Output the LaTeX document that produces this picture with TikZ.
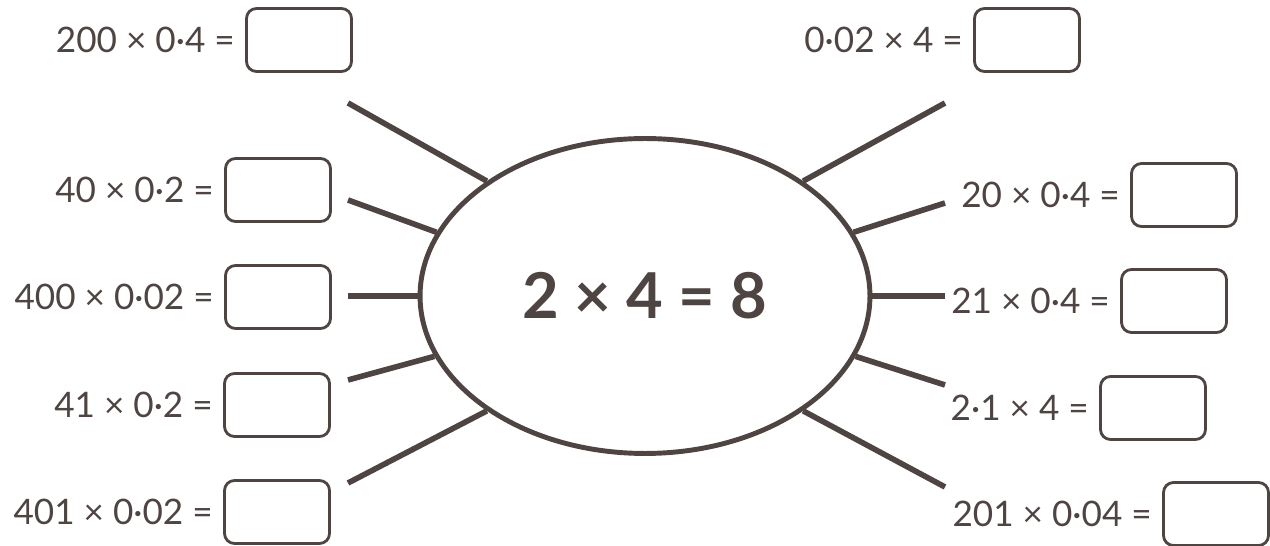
\documentclass[tikz,border=0pt]{standalone}
\usepackage{fontspec}
\setmainfont{Lato}
\usetikzlibrary{positioning, shapes.geometric}
\definecolor{mygrey}{RGB}{78,68,66}

\begin{document}
\begin{tikzpicture}[x=0.02cm, y=-0.02cm,
  ansbox/.style={rectangle, draw=mygrey, line width=1.6pt, rounded corners=0.2cm, minimum width=2.1cm, minimum height=1.26cm},
  sum/.style={inner sep=0pt, text=mygrey, font=\fontsize{20}{24}\selectfont},
  spoke/.style={draw=mygrey, line width=3.2pt}]

\useasboundingbox (0,0) rectangle (1270,546);

% Centre oval
\node[ellipse, draw=mygrey, line width=2.8pt, minimum width=9cm, minimum height=6.3cm, inner sep=0pt, text=mygrey, font=\fontsize{36}{40}\selectfont\bfseries] (hub) at (645,296) {2 × 4 = 8};

% Left boxes
\node[ansbox] (boxa) at (299,40) {};
\node[sum, left=0.2cm of boxa] (suma) {200 × 0·4 =};
\node[ansbox] (boxb) at (278,190) {};
\node[sum, left=0.2cm of boxb] (sumb) {40 × 0·2 =};
\node[ansbox] (boxc) at (278,297) {};
\node[sum, left=0.2cm of boxc] (sumc) {400 × 0·02 =};
\node[ansbox] (boxd) at (277,405) {};
\node[sum, left=0.2cm of boxd] (sumd) {41 × 0·2 =};
\node[ansbox] (boxe) at (277,512) {};
\node[sum, left=0.2cm of boxe] (sume) {401 × 0·02 =};

% Right boxes
\node[ansbox] (boxf) at (1027,40) {};
\node[sum, left=0.2cm of boxf] (sumf) {0·02 × 4 =};
\node[ansbox] (boxg) at (1184,195) {};
\node[sum, left=0.2cm of boxg] (sumg) {20 × 0·4 =};
\node[ansbox] (boxh) at (1174,301) {};
\node[sum, left=0.2cm of boxh] (sumh) {21 × 0·4 =};
\node[ansbox] (boxi) at (1153,408) {};
\node[sum, left=0.2cm of boxi] (sumi) {2·1 × 4 =};
\node[ansbox] (boxj) at (1216,514) {};
\node[sum, left=0.2cm of boxj] (sumj) {201 × 0·04 =};

% Spoke ends
\coordinate (sa) at (348,103);
\coordinate (sb) at (348,200);
\coordinate (sc) at (348,296);
\coordinate (sd) at (348,380);
\coordinate (se) at (348,483);
\coordinate (sf) at (945,103);
\coordinate (sg) at (945,203);
\coordinate (sh) at (945,296);
\coordinate (si) at (945,385);
\coordinate (sj) at (945,487);

% Spokes
\draw[spoke] (sa) -- (hub.144);
\draw[spoke] (sb) -- (hub.163);
\draw[spoke] (sc) -- (hub.180);
\draw[spoke] (sd) -- (hub.196);
\draw[spoke] (se) -- (hub.216);
\draw[spoke] (sf) -- (hub.36);
\draw[spoke] (sg) -- (hub.17);
\draw[spoke] (sh) -- (hub.0);
\draw[spoke] (si) -- (hub.-16);
\draw[spoke] (sj) -- (hub.-36);

\end{tikzpicture}
\end{document}
